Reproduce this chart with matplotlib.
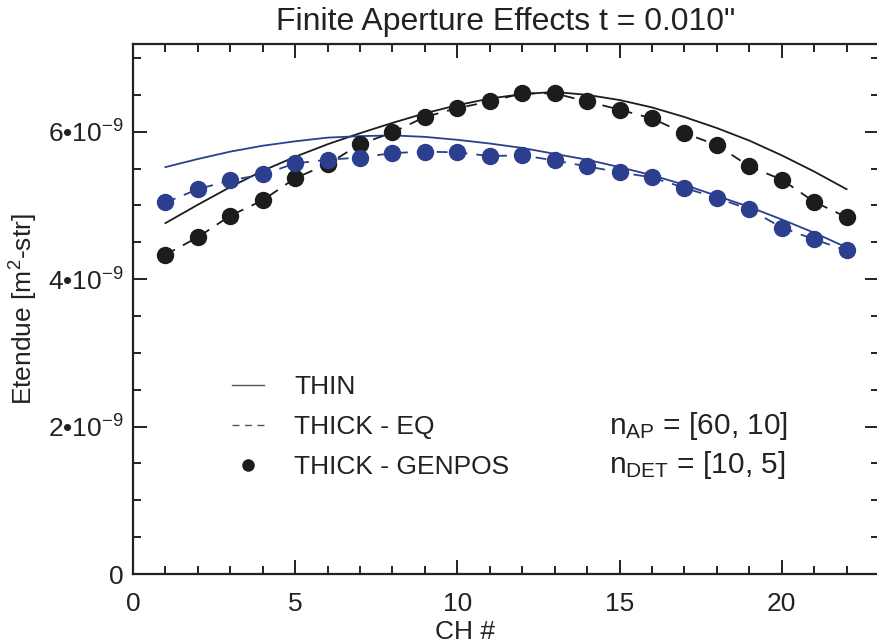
import matplotlib
matplotlib.use("Agg")
import matplotlib.pyplot as plt
from matplotlib.lines import Line2D
from matplotlib.ticker import MultipleLocator, FixedLocator, FixedFormatter
from matplotlib import font_manager

names = {f.name for f in font_manager.fontManager.ttflist}
MAIN = 'Liberation Sans Narrow' if 'Liberation Sans Narrow' in names else 'Liberation Sans'
plt.rcParams['font.family'] = [MAIN, 'DejaVu Sans']
plt.rcParams['mathtext.fontset'] = 'custom'
plt.rcParams['mathtext.rm'] = MAIN
plt.rcParams['mathtext.it'] = MAIN
plt.rcParams['mathtext.bf'] = MAIN

# ---- data (units of 1e-9 m^2-str) ----
channels = list(range(1, 23))
thin_black = [4.76, 5.01, 5.25, 5.47, 5.66, 5.83, 5.98, 6.12, 6.25, 6.36, 6.45,
              6.51, 6.54, 6.50, 6.43, 6.33, 6.20, 6.05, 5.88, 5.68, 5.46, 5.22]
thin_blue = [5.52, 5.63, 5.73, 5.81, 5.87, 5.92, 5.94, 5.95, 5.93, 5.89, 5.84,
             5.78, 5.70, 5.62, 5.52, 5.41, 5.28, 5.13, 4.98, 4.81, 4.63, 4.43]
eq_black = [4.33, 4.57, 4.86, 5.07, 5.37, 5.56, 5.83, 5.99, 6.20, 6.32, 6.41,
            6.52, 6.52, 6.41, 6.30, 6.18, 5.98, 5.82, 5.53, 5.35, 5.05, 4.84]
eq_blue = [5.04, 5.22, 5.34, 5.42, 5.57, 5.62, 5.65, 5.71, 5.73, 5.72, 5.67,
           5.68, 5.61, 5.53, 5.45, 5.38, 5.24, 5.10, 4.95, 4.70, 4.54, 4.39]
gen_black = [4.33, 4.57, 4.86, 5.07, 5.37, 5.56, 5.83, 5.99, 6.20, 6.32, 6.41,
             6.52, 6.52, 6.41, 6.30, 6.18, 5.98, 5.82, 5.53, 5.35, 5.05, 4.84]
gen_blue = [5.04, 5.22, 5.34, 5.42, 5.57, 5.62, 5.65, 5.71, 5.73, 5.72, 5.67,
            5.68, 5.61, 5.53, 5.45, 5.38, 5.24, 5.10, 4.95, 4.70, 4.54, 4.39]
scale = 1e-9

ytick_vals = [0, 2e-9, 4e-9, 6e-9]
ytick_labels = ["0", "2\u202210$^{\\mathdefault{-9}}$", "4\u202210$^{\\mathdefault{-9}}$",
                "6\u202210$^{\\mathdefault{-9}}$"]
legend_labels = ["THIN", "THICK - EQ", "THICK - GENPOS"]
title = "Finite Aperture Effects t = 0.010\""

BLACK = "#1c1c1c"
BLUE = "#2c3f8e"
TXT = "#222222"

W, H = 877, 644
fig = plt.figure(figsize=(W / 100, H / 100), dpi=100)
L, R, B, T = 133, 879, 574, 44
ax = fig.add_axes([L / W, 1 - B / H, (R - L) / W, (B - T) / H])

def s(v):
    return [x * scale for x in v]

ax.plot(channels, s(thin_black), color=BLACK, lw=1.3, zorder=3)
ax.plot(channels, s(thin_blue), color=BLUE, lw=1.3, zorder=3)
ax.plot(channels, s(eq_black), color=BLACK, lw=1.3, ls=(0, (6, 5)), zorder=3)
ax.plot(channels, s(eq_blue), color=BLUE, lw=1.3, ls=(0, (6, 5)), zorder=3)
ax.plot(channels, s(gen_black), ls="none", marker="o", ms=11.5, color=BLACK,
        mec=BLACK, zorder=4)
ax.plot(channels, s(gen_blue), ls="none", marker="o", ms=11.5, color=BLUE,
        mec=BLUE, zorder=4)

ax.set_xlim(0, 23)
ax.set_ylim(0, 7.19e-9)

ax.xaxis.set_major_locator(MultipleLocator(5))
ax.xaxis.set_minor_locator(MultipleLocator(1))
ax.yaxis.set_major_locator(FixedLocator(ytick_vals))
ax.yaxis.set_major_formatter(FixedFormatter(ytick_labels))
ax.yaxis.set_minor_locator(MultipleLocator(0.5e-9))

ax.tick_params(which="both", direction="in", top=True, right=True,
               width=1.4, color=TXT, labelsize=19, labelcolor=TXT)
ax.tick_params(which="major", length=10)
ax.tick_params(which="minor", length=6)
ax.tick_params(axis="x", pad=13)
ax.tick_params(axis="y", pad=7)
for sp in ax.spines.values():
    sp.set_linewidth(1.6)
    sp.set_color(TXT)

ax.set_xlabel("CH #", fontsize=19, color=TXT)
ax.set_ylabel("Etendue [m$^{\\mathdefault{2}}$-str]", fontsize=19, color=TXT)
ax.xaxis.set_label_coords(0.445, -0.086)
ax.yaxis.set_label_coords(-0.124, 0.5)
ax.set_title(title, fontsize=23, color=TXT, pad=10)

handles = [
    Line2D([], [], color="#555555", lw=1.0),
    Line2D([], [], color="#555555", lw=1.0, ls=(0, (5, 4))),
    Line2D([], [], ls="none", marker="o", ms=8, color=BLACK),
]
leg = ax.legend(handles, legend_labels, loc="upper left",
                bbox_to_anchor=(0.133, 0.375), frameon=False, fontsize=19,
                handlelength=1.2, handletextpad=1.15, labelspacing=0.6,
                borderpad=0, borderaxespad=0)
for t in leg.get_texts():
    t.set_color(TXT)

ax.text(0.638, 0.28, "n$_{\\mathdefault{AP}}$ = [60, 10]", transform=ax.transAxes,
        fontsize=21.5, color=TXT, va="center")
ax.text(0.638, 0.205, "n$_{\\mathdefault{DET}}$ = [10, 5]", transform=ax.transAxes,
        fontsize=21.5, color=TXT, va="center")

fig.savefig("out.png", dpi=100)
